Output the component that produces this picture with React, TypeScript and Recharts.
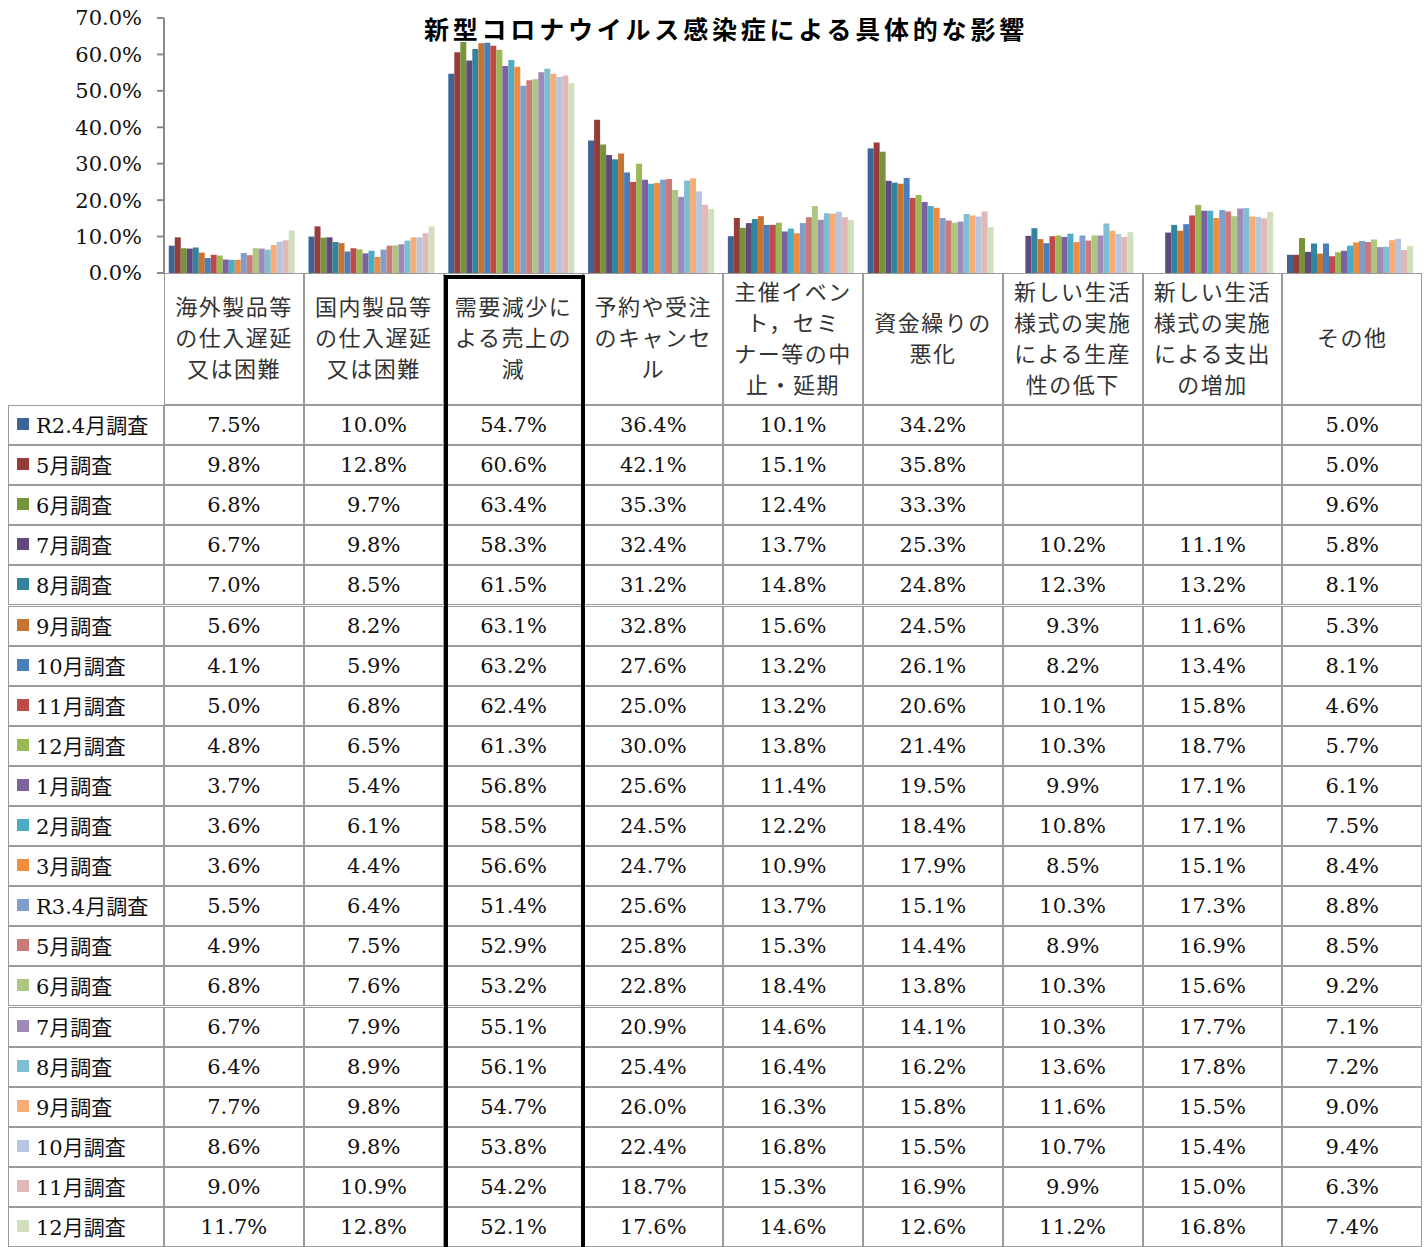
import { BarChart, Bar, XAxis, YAxis } from 'recharts';

// header labels, wrapped the way the original sheet wraps them
const categories = [
  '海外製品等\nの仕入遅延\n又は困難',
  '国内製品等\nの仕入遅延\n又は困難',
  '需要減少に\nよる売上の\n減',
  '予約や受注\nのキャンセ\nル',
  '主催イベン\nト，セミ\nナー等の中\n止・延期',
  '資金繰りの\n悪化',
  '新しい生活\n様式の実施\nによる生産\n性の低下',
  '新しい生活\n様式の実施\nによる支出\nの増加',
  'その他',
];

const surveyLabels = [
  'R2.4月調査', '5月調査', '6月調査', '7月調査', '8月調査', '9月調査', '10月調査',
  '11月調査', '12月調査', '1月調査', '2月調査', '3月調査', 'R3.4月調査', '5月調査',
  '6月調査', '7月調査', '8月調査', '9月調査', '10月調査', '11月調査', '12月調査',
];

const r2Apr = [7.5, 10.0, 54.7, 36.4, 10.1, 34.2, null, null, 5.0];
const r2May = [9.8, 12.8, 60.6, 42.1, 15.1, 35.8, null, null, 5.0];
const r2Jun = [6.8, 9.7, 63.4, 35.3, 12.4, 33.3, null, null, 9.6];
const r2Jul = [6.7, 9.8, 58.3, 32.4, 13.7, 25.3, 10.2, 11.1, 5.8];
const r2Aug = [7.0, 8.5, 61.5, 31.2, 14.8, 24.8, 12.3, 13.2, 8.1];
const r2Sep = [5.6, 8.2, 63.1, 32.8, 15.6, 24.5, 9.3, 11.6, 5.3];
const r2Oct = [4.1, 5.9, 63.2, 27.6, 13.2, 26.1, 8.2, 13.4, 8.1];
const r2Nov = [5.0, 6.8, 62.4, 25.0, 13.2, 20.6, 10.1, 15.8, 4.6];
const r2Dec = [4.8, 6.5, 61.3, 30.0, 13.8, 21.4, 10.3, 18.7, 5.7];
const r3Jan = [3.7, 5.4, 56.8, 25.6, 11.4, 19.5, 9.9, 17.1, 6.1];
const r3Feb = [3.6, 6.1, 58.5, 24.5, 12.2, 18.4, 10.8, 17.1, 7.5];
const r3Mar = [3.6, 4.4, 56.6, 24.7, 10.9, 17.9, 8.5, 15.1, 8.4];
const r3Apr = [5.5, 6.4, 51.4, 25.6, 13.7, 15.1, 10.3, 17.3, 8.8];
const r3May = [4.9, 7.5, 52.9, 25.8, 15.3, 14.4, 8.9, 16.9, 8.5];
const r3Jun = [6.8, 7.6, 53.2, 22.8, 18.4, 13.8, 10.3, 15.6, 9.2];
const r3Jul = [6.7, 7.9, 55.1, 20.9, 14.6, 14.1, 10.3, 17.7, 7.1];
const r3Aug = [6.4, 8.9, 56.1, 25.4, 16.4, 16.2, 13.6, 17.8, 7.2];
const r3Sep = [7.7, 9.8, 54.7, 26.0, 16.3, 15.8, 11.6, 15.5, 9.0];
const r3Oct = [8.6, 9.8, 53.8, 22.4, 16.8, 15.5, 10.7, 15.4, 9.4];
const r3Nov = [9.0, 10.9, 54.2, 18.7, 15.3, 16.9, 9.9, 15.0, 6.3];
const r3Dec = [11.7, 12.8, 52.1, 17.6, 14.6, 12.6, 11.2, 16.8, 7.4];

const yTicks = [0, 10, 20, 30, 40, 50, 60, 70];

const seriesValues = [
  r2Apr, r2May, r2Jun, r2Jul, r2Aug, r2Sep, r2Oct, r2Nov, r2Dec, r3Jan, r3Feb,
  r3Mar, r3Apr, r3May, r3Jun, r3Jul, r3Aug, r3Sep, r3Oct, r3Nov, r3Dec,
];

const seriesColors = [
  '#3c6496', '#963c3a', '#77933c', '#604a7b', '#31859c', '#c6742f', '#4a7ebb',
  '#be4b48', '#98b954', '#7d60a0', '#4bacc6', '#f08c3e', '#7f9ecb', '#cc7a78',
  '#adc681', '#9e89b8', '#7ebed4', '#f9ad76', '#b7c6e0', '#e0b8b7', '#d1dfbd',
];

// layout of the sheet under the plot
const PLOT_LEFT = 164;
const COL_W = 139.8;
const HEADER_TOP = 273;
const ROW_TOP = 405;
const ROW_H = 40.1;
const GRID = '#9a9a9a';
const SERIF = "'DejaVu Serif', 'Noto Sans CJK JP', serif";
const GOTHIC = "'Noto Sans CJK JP', sans-serif";

const chartData = categories.map((name, i) => {
  const row: Record<string, string | number | null> = { name };
  seriesValues.forEach((vals, s) => {
    row['s' + s] = vals[i];
  });
  return row;
});

const formatPct = (v: number | null) => (v == null ? '' : v.toFixed(1) + '%');

const cellBase: React.CSSProperties = {
  position: 'absolute',
  boxSizing: 'border-box',
  border: `1px solid ${GRID}`,
  display: 'flex',
  alignItems: 'center',
  justifyContent: 'center',
  background: '#fff',
};

function DataTable() {
  return (
    <>
      {categories.map((c, i) => (
        <div
          key={'h' + i}
          style={{
            ...cellBase,
            left: PLOT_LEFT + i * COL_W,
            top: HEADER_TOP,
            width: COL_W,
            height: ROW_TOP - HEADER_TOP,
            paddingBottom: 5,
            whiteSpace: 'pre-line',
            textAlign: 'center',
            fontFamily: GOTHIC,
            fontSize: 22,
            letterSpacing: 1.5,
            lineHeight: '31px',
            color: '#333',
          }}
        >
          {c}
        </div>
      ))}
      {surveyLabels.map((label, r) => (
        <div key={'r' + r}>
          <div
            style={{
              ...cellBase,
              justifyContent: 'flex-start',
              left: 8,
              top: ROW_TOP + r * ROW_H,
              width: PLOT_LEFT - 8,
              height: ROW_H,
              paddingBottom: 2,
              fontFamily: SERIF,
              fontSize: 21,
              color: '#111',
            }}
          >
            <span
              style={{
                display: 'inline-block',
                width: 12,
                height: 12,
                marginLeft: 8,
                marginRight: 7,
                background: seriesColors[r],
              }}
            />
            {label}
          </div>
          {seriesValues[r].map((v, i) => (
            <div
              key={i}
              style={{
                ...cellBase,
                left: PLOT_LEFT + i * COL_W,
                top: ROW_TOP + r * ROW_H,
                width: COL_W,
                height: ROW_H,
                fontFamily: SERIF,
                fontSize: 21,
                color: '#111',
              }}
            >
              {formatPct(v)}
            </div>
          ))}
        </div>
      ))}
      {/* highlighted column */}
      <div
        style={{
          position: 'absolute',
          boxSizing: 'border-box',
          left: 444,
          top: 275,
          width: 141,
          height: 1100,
          border: '4px solid #000',
          pointerEvents: 'none',
        }}
      />
    </>
  );
}

export default function App() {
  return (
    <div
      style={{
        position: 'absolute',
        top: 0,
        left: 0,
        width: 1426,
        height: 1247,
        overflow: 'hidden',
        background: '#fff',
      }}
    >
      <BarChart
        width={1426}
        height={296}
        data={chartData}
        margin={{ top: 18, right: 4, bottom: 23, left: 0 }}
        barCategoryGap="3.4%"
        barGap={0}
      >
        <XAxis dataKey="name" hide />
        <YAxis
          width={164}
          domain={[0, 70]}
          ticks={yTicks}
          interval={0}
          tickFormatter={(v: number) => v.toFixed(1) + '%'}
          axisLine={{ stroke: '#8a8a8a', strokeWidth: 2 }}
          tickLine={{ stroke: '#8a8a8a', strokeWidth: 2 }}
          tickSize={7}
          tickMargin={15}
          tick={{ fontFamily: SERIF, fontSize: 21, fill: '#111' }}
        />
        {seriesValues.map((_, s) => (
          <Bar
            key={s}
            dataKey={'s' + s}
            fill={seriesColors[s]}
            isAnimationActive={false}
          />
        ))}
      </BarChart>
      <DataTable />
      <div
        style={{
          position: 'absolute',
          left: 726,
          top: 10,
          transform: 'translateX(-50%)',
          whiteSpace: 'nowrap',
          fontFamily: GOTHIC,
          fontWeight: 700,
          fontSize: 25,
          letterSpacing: 3.8,
          color: '#000',
        }}
      >
        新型コロナウイルス感染症による具体的な影響
      </div>
    </div>
  );
}
